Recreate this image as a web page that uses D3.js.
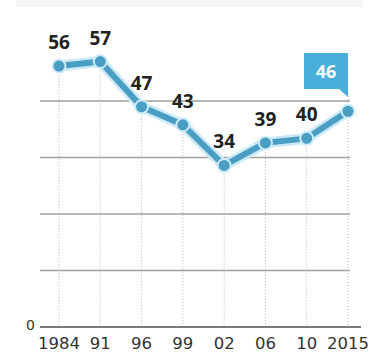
<!DOCTYPE html>
<html>
<head>
<meta charset="utf-8">
<script src="https://cdn.jsdelivr.net/npm/d3@7"></script>
<style>
  body { margin: 0; background: #fff; }
  svg { display: block; }
</style>
</head>
<body>
<div id="chart"></div>
<script>
// data
var years = ["1984", "91", "96", "99", "02", "06", "10", "2015"];
var values = [56, 57, 47, 43, 34, 39, 40, 46];
var zeroLabel = "0";

var W = 379, H = 352;

var svg = d3.select("#chart")
  .append("svg")
    .attr("width", W)
    .attr("height", H);

// faint cut-off strip at the very top
svg.append("rect")
  .attr("x", 16).attr("y", 0)
  .attr("width", 347).attr("height", 7)
  .attr("fill", "#f6f6f6");

var x = d3.scalePoint()
  .domain(years)
  .range([59, 348]);

// baseline sits a little below the value 0
var yBase = -1.75;
var y = d3.scaleLinear()
  .domain([yBase, 60])
  .range([327, 48]);

// horizontal grid
var grid = d3.range(1, 5).map(function (i) { return yBase + 12.5 * i; });
svg.append("g")
  .selectAll("line")
  .data(grid)
  .enter()
  .append("line")
    .attr("x1", 40).attr("x2", 350)
    .attr("y1", function (d) { return y(d); })
    .attr("y2", function (d) { return y(d); })
    .attr("stroke", "#a0a0a0")
    .attr("stroke-width", 1.5);

// vertical dotted lines
svg.append("g")
  .selectAll("line")
  .data(years)
  .enter()
  .append("line")
    .attr("x1", function (d) { return x(d); })
    .attr("x2", function (d) { return x(d); })
    .attr("y1", function (d, i) {
      return i === years.length - 1 ? 96 : Math.max(55, y(values[i]));
    })
    .attr("y2", y(yBase))
    .attr("stroke", "#b5b5b5")
    .attr("stroke-width", 1)
    .attr("stroke-dasharray", "1,2");

// baseline
svg.append("line")
  .attr("x1", 40).attr("x2", 361)
  .attr("y1", y(yBase)).attr("y2", y(yBase))
  .attr("stroke", "#7a7a7a")
  .attr("stroke-width", 2);

svg.append("text")
  .attr("x", 35)
  .attr("y", y(yBase) + 3)
  .attr("text-anchor", "end")
  .style("font-family", "DejaVu Sans")
  .style("font-size", "14px")
  .style("fill", "#333")
  .text(zeroLabel);

// x axis labels
svg.append("g")
  .selectAll("text")
  .data(years)
  .enter()
  .append("text")
    .attr("x", function (d) { return x(d); })
    .attr("y", 349)
    .attr("text-anchor", "middle")
    .style("font-family", "DejaVu Sans")
    .style("font-size", "16.5px")
    .style("fill", "#333")
    .text(function (d) { return d; });

// line
var line = d3.line()
  .x(function (d, i) { return x(years[i]); })
  .y(function (d) { return y(d); });

svg.append("path")
  .datum(values)
  .attr("d", line)
  .attr("fill", "none")
  .attr("stroke", "#cbe9f7")
  .attr("stroke-width", 11)
  .attr("stroke-linejoin", "round")
  .attr("stroke-linecap", "round");

svg.append("path")
  .datum(values)
  .attr("d", line)
  .attr("fill", "none")
  .attr("stroke", "#4a9ec4")
  .attr("stroke-width", 6)
  .attr("stroke-linejoin", "round");

// dots
svg.append("g")
  .selectAll("circle")
  .data(values)
  .enter()
  .append("circle")
    .attr("cx", function (d, i) { return x(years[i]); })
    .attr("cy", function (d) { return y(d); })
    .attr("r", 6.5)
    .attr("fill", "#4a9ec4")
    .attr("stroke", "#cdebf8")
    .attr("stroke-width", 2);

// value labels (all but the last)
var last = values.length - 1;
svg.append("g")
  .selectAll("text")
  .data(values.slice(0, last))
  .enter()
  .append("text")
    .attr("x", function (d, i) { return x(years[i]); })
    .attr("y", function (d) { return y(d) - 17; })
    .attr("text-anchor", "middle")
    .style("font-family", "Open Sans")
    .style("font-weight", "bold")
    .style("font-size", "19px")
    .style("fill", "#222")
    .text(function (d) { return d; });

// callout for the latest value
var cx = x(years[last]);
var callout = svg.append("g");
callout.append("path")
  .attr("d", "M" + (cx - 44) + ",53 H" + cx + " V97 L" + (cx - 9) + ",89 H" + (cx - 44) + " Z")
  .attr("fill", "#4aaedb");
callout.append("text")
  .attr("x", cx - 22)
  .attr("y", 78)
  .attr("text-anchor", "middle")
  .style("font-family", "Open Sans")
  .style("font-weight", "bold")
  .style("font-size", "18px")
  .style("fill", "#fff")
  .text(values[last]);
</script>
</body>
</html>
